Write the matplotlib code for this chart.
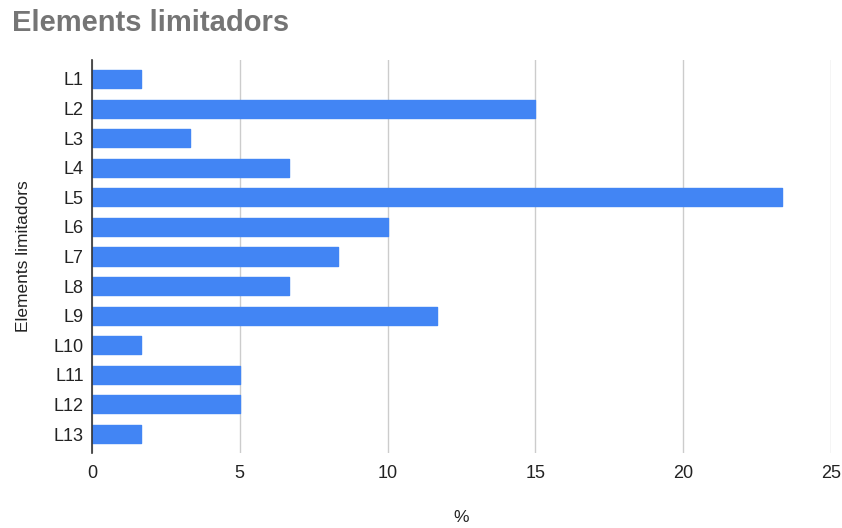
import matplotlib
matplotlib.use("Agg")
import matplotlib.pyplot as plt

plt.rcParams['font.family'] = ['Liberation Sans', 'DejaVu Sans']

categories = ["L1", "L2", "L3", "L4", "L5", "L6", "L7", "L8", "L9", "L10", "L11", "L12", "L13"]
values = [1.67, 15.0, 3.33, 6.67, 23.33, 10.0, 8.33, 6.67, 11.67, 1.67, 5.0, 5.0, 1.67]
x_ticks = [0, 5, 10, 15, 20, 25]

fig = plt.figure(figsize=(8.42, 5.28), dpi=100)
ax = fig.add_axes([92/842, 1 - 453/528, (831 - 92)/842, (453 - 60)/528])

pos = list(range(len(categories)))
ax.barh(pos, values, height=0.61, color="#4285F4", edgecolor="#4285F4",
        linewidth=1, joinstyle="round", zorder=3)

ax.set_xlim(0, 25)
ax.set_ylim(12.64, -0.64)
ax.set_yticks(pos)
ax.set_yticklabels(categories)
ax.set_xticks(x_ticks)
ax.set_xticklabels([str(t) for t in x_ticks])

ax.grid(axis="x", color="#cccccc", linewidth=1, zorder=0)
ax.grid(axis="y", visible=False)
for s in ["top", "right", "bottom"]:
    ax.spines[s].set_visible(False)
ax.spines["left"].set_color("#333333")
ax.spines["left"].set_linewidth(1.2)
ax.spines["left"].set_zorder(4)

ax.tick_params(axis="both", length=0, labelsize=13, colors="#222222")
ax.tick_params(axis="y", pad=6)
ax.tick_params(axis="x", pad=9)

ax.set_ylabel("Elements limitadors", fontsize=12.5, color="#222222", labelpad=16)
fig.text(461/842, 1 - 518/528, "%", fontsize=12.5, color="#222222",
         ha="center", va="center")

fig.text(12/842, 1 - 23/528, "Elements limitadors", fontsize=21, fontweight="bold",
         color="#757575", ha="left", va="center")

fig.savefig("out.png", dpi=100)
